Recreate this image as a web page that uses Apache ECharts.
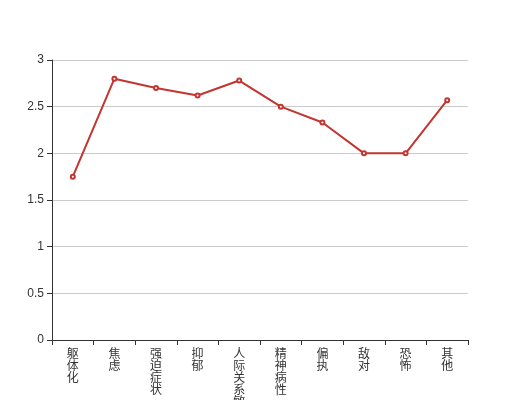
<!DOCTYPE html>
<html>
<head>
<meta charset="utf-8">
<script src="https://cdn.jsdelivr.net/npm/echarts@6/dist/echarts.min.js"></script>
<style>
  html, body { margin: 0; padding: 0; background: #fff; }
  #chart { width: 520px; height: 400px; }
</style>
</head>
<body>
<div id="chart"></div>
<script>
var categories = ['躯体化', '焦虑', '强迫症状', '抑郁', '人际关系敏感', '精神病性', '偏执', '敌对', '恐怖', '其他']
var scores = [1.75, 2.8, 2.7, 2.62, 2.78, 2.5, 2.33, 2.0, 2.0, 2.57]

var myChart = echarts.init(document.getElementById('chart'))
var option = {
  animation: false,
  grid: {
    left: 52,
    right: 52,
    top: 60,
    bottom: 60,
    containLabel: false,
    outerBoundsMode: 'none'
  },
  xAxis: {
    type: 'category',
    data: categories,
    axisLine: { lineStyle: { color: '#333' } },
    axisTick: { show: true, lineStyle: { color: '#333' } },
    axisLabel: {
      color: '#333',
      fontSize: 12,
      lineHeight: 12,
      margin: 7,
      interval: 0,
      fontFamily: 'Noto Sans CJK SC',
      // 每个字一行，竖排显示
      formatter: function(value) {
        return value.split('').join('\n')
      }
    }
  },
  yAxis: {
    type: 'value',
    min: 0,
    max: 3,
    interval: 0.5,
    axisLine: { show: true, lineStyle: { color: '#333' } },
    axisTick: { show: true, lineStyle: { color: '#333' } },
    axisLabel: { color: '#333', fontSize: 12 },
    splitLine: { lineStyle: { color: '#ccc' } }
  },
  series: [
    {
      type: 'line',
      data: scores,
      symbol: 'emptyCircle',
      symbolSize: 4,
      itemStyle: { color: '#c23531' },
      lineStyle: { color: '#c23531', width: 2 }
    }
  ]
}
myChart.setOption(option)
</script>
</body>
</html>
